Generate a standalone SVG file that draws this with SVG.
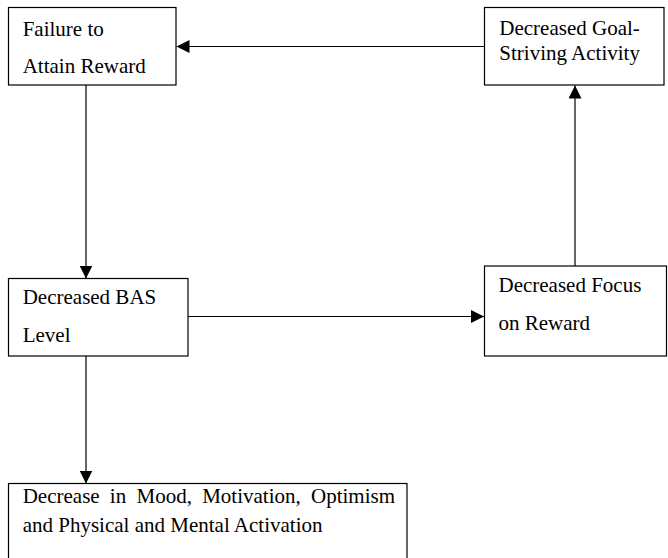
<svg xmlns="http://www.w3.org/2000/svg" width="668" height="558" viewBox="0 0 668 558">
<style>
.box{fill:#fff;stroke:#000;stroke-width:1.2}
.c{stroke:#000;stroke-width:1.2;fill:none}
</style>
<defs>
<marker id="ah" markerWidth="13" markerHeight="13" refX="13" refY="6.5" orient="auto" markerUnits="userSpaceOnUse">
<path d="M0,0 L13,6.5 L0,13 Z" fill="#000"/>
</marker>
</defs>
<rect width="668" height="558" fill="#fff"/>
<g id="connectors">
<line class="c" x1="484" y1="46.5" x2="176.5" y2="46.5" marker-end="url(#ah)"/>
<line class="c" x1="86" y1="85" x2="86" y2="278.5" marker-end="url(#ah)"/>
<line class="c" x1="188" y1="316.5" x2="484" y2="316.5" marker-end="url(#ah)"/>
<line class="c" x1="575" y1="266" x2="575" y2="85.5" marker-end="url(#ah)"/>
<line class="c" x1="86" y1="356" x2="86" y2="483.5" marker-end="url(#ah)"/>
</g>
<g font-family="Liberation Serif, DejaVu Serif, serif" font-size="21" fill="#000">
<g id="node-failure">
<rect class="box" x="8.5" y="7.5" width="167.5" height="77.5"/>
<text x="22.7" y="36">Failure to</text>
<text x="22.7" y="72.7">Attain Reward</text>
</g>
<g id="node-goal">
<rect class="box" x="484.5" y="7.5" width="179.5" height="77.5"/>
<text x="499.3" y="35">Decreased Goal-</text>
<text x="499.3" y="60">Striving Activity</text>
</g>
<g id="node-bas">
<rect class="box" x="8.5" y="278.5" width="179.5" height="77.5"/>
<text x="22.7" y="304">Decreased BAS</text>
<text x="22.7" y="342">Level</text>
</g>
<g id="node-focus">
<rect class="box" x="484.5" y="266" width="182" height="90"/>
<text x="498.5" y="292">Decreased Focus</text>
<text x="498.5" y="330">on Reward</text>
</g>
<g id="node-mood">
<rect class="box" x="8.5" y="483.5" width="398.5" height="80"/>
<text x="22.7" y="503" word-spacing="5">Decrease in Mood, Motivation, Optimism</text>
<text x="22.7" y="532">and Physical and Mental Activation</text>
</g>
</g>
</svg>
